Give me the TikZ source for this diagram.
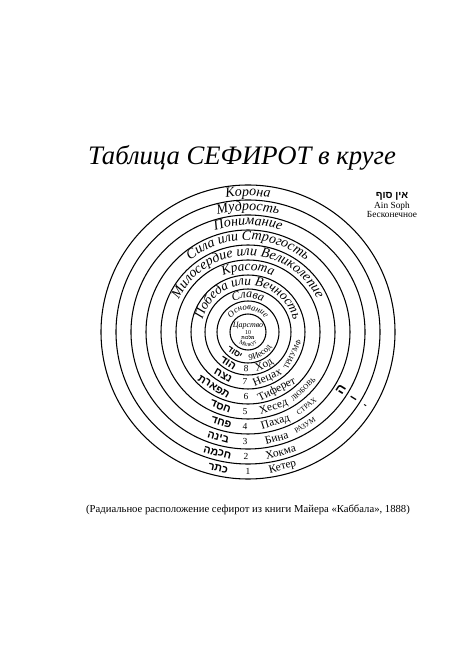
\documentclass[tikz,border=0pt]{standalone}
\usepackage{fontspec}
\setmainfont{Liberation Serif}
\newfontfamily\hebfont[Script=Hebrew]{Liberation Sans}
\TeXXeTstate=1
\usetikzlibrary{decorations.text}

% name of a sefira along the upper part of a ring
\newcommand{\arcname}[3]{%
  \path[decorate,decoration={text along path,text align=center,
    text={|\itshape\fontsize{#2}{#2}\selectfont|#3}}]
    (200:#1) arc[start angle=200,end angle=-20,radius=#1];}
% name running along the lower part of a ring, from angle #2
\newcommand{\lowname}[4]{%
  \path[decorate,decoration={text along path,
    text={|\fontsize{#3}{#3}\selectfont|#4}}]
    (#2:#1) arc[start angle=#2,end angle={#2+120},radius=#1];}
% label on the lower part of a ring, #3 = shift along the ring
\newcommand{\ringlabel}[5]{%
  \node[#4,rotate={deg(#3/#2)}] (#1) at ({-90+deg(#3/#2)}:#2) {#5};}

\tikzset{
  ring/.style={line width=0.8pt},
  rname/.style={inner sep=0pt,font=\fontsize{8.5pt}{9pt}\selectfont},
  rnum/.style={inner sep=0pt,font=\fontsize{7pt}{7pt}\selectfont},
  rcaps/.style={inner sep=0pt,font=\fontsize{5.5pt}{6pt}\selectfont},
  rheb/.style={inner sep=0pt,font=\hebfont\bfseries\fontsize{8pt}{8pt}\selectfont}
}

\begin{document}
\begin{tikzpicture}[x=0.75pt,y=0.75pt]
\useasboundingbox (-248,-334) rectangle (220,332);

\node[font=\itshape\fontsize{20pt}{22pt}\selectfont] (title) at (-6,174) {Таблица СЕФИРОТ в круге};

% rings
\foreach \r in {147,132,117,102,87,72,57,43,31,18}
  \draw[ring] (0,0) circle[radius=\r];

% upper names
\arcname{136}{10.5pt}{Корона}
\arcname{121.5}{10.5pt}{Мудрость}
\arcname{107}{10.5pt}{Понимание}
\arcname{92}{10.5pt}{Сила или Строгость}
\arcname{76.5}{10.5pt}{Милосердие или Великолепие}
\arcname{61.5}{10pt}{Красота}
\arcname{47}{10pt}{Победа или Вечность}
\arcname{34}{9pt}{Слава}
\arcname{22}{6.5pt}{Основание}

% inner ring
\node[font=\itshape\fontsize{6pt}{6pt}\selectfont,inner sep=0pt] (malkhut) at (0,6) {Царство};
\node[inner sep=0pt,font=\fontsize{4.5pt}{5pt}\selectfont] (n10) at (0,-1) {10};
\node[inner sep=0pt,font=\hebfont\bfseries\fontsize{3.5pt}{4pt}\selectfont] (h10) at (0,-6) {\beginR מלכות\endR};
\path[decorate,decoration={text along path,text align=center,
  text={|\fontsize{4.5pt}{5pt}\selectfont|Малкут}}]
  (200:14.5) arc[start angle=200,end angle=340,radius=14.5];

% lower labels
\ringlabel{h1}{139.5}{-30}{rheb}{\beginR כתר\endR}
\ringlabel{n1}{139.5}{0}{rnum}{1}
\ringlabel{r1}{139.5}{35}{rname}{Кетер}
\ringlabel{h2}{124.5}{-31}{rheb}{\beginR חכמה\endR}
\ringlabel{n2}{124.5}{-2}{rnum}{2}
\ringlabel{r2}{124.5}{33}{rname}{Хокма}
\ringlabel{h3}{109.5}{-30}{rheb}{\beginR בינה\endR}
\ringlabel{n3}{109.5}{-3}{rnum}{3}
\ringlabel{r3}{109.5}{29}{rname}{Бина}
\ringlabel{c3}{109.5}{60}{rcaps}{РАЗУМ}
\ringlabel{h4}{94.5}{-27}{rheb}{\beginR פחד\endR}
\ringlabel{n4}{94.5}{-3}{rnum}{4}
\ringlabel{r4}{94.5}{28}{rname}{Пахад}
\ringlabel{c4}{94.5}{63}{rcaps}{СТРАХ}
\ringlabel{h5}{79.5}{-28}{rheb}{\beginR חסד\endR}
\ringlabel{n5}{79.5}{-3}{rnum}{5}
\ringlabel{r5}{79.5}{26}{rname}{Хесед}
\ringlabel{c5}{79.5}{61}{rcaps}{ЛЮБОВЬ}
\ringlabel{h6}{64.5}{-36}{rheb}{\beginR תפארת\endR}
\ringlabel{n6}{64.5}{-2}{rnum}{6}
\ringlabel{r6}{64.5}{30}{rname}{Тиферет}
\ringlabel{h7}{50}{-26}{rheb}{\beginR נצח\endR}
\ringlabel{n7}{50}{-3}{rnum}{7}
\ringlabel{r7}{50}{20}{rname}{Нецах}
\ringlabel{c7}{50}{55}{rcaps}{ТРИУМФ}
\ringlabel{h8}{37}{-21}{rheb}{\beginR הוד\endR}
\ringlabel{n8}{37}{-2}{rnum}{8}
\lowname{40}{-78}{8.5pt}{Ход}
\ringlabel{h9}{24.5}{-14}{rheb,font=\hebfont\bfseries\fontsize{6.5pt}{7pt}\selectfont}{\beginR יסוד\endR}
\lowname{28}{-88}{6.5pt}{9Иесод}

% letters on the right
\node[rheb,font=\hebfont\bfseries\fontsize{10pt}{10pt}\selectfont,rotate=58] (he) at (-32:109.5) {ה};
\node[rheb,font=\hebfont\bfseries\fontsize{8pt}{8pt}\selectfont,rotate=58] (vav) at (-32:124.5) {ו};
\node[rheb,font=\hebfont\bfseries\fontsize{6pt}{6pt}\selectfont,rotate=58] (yod) at (-32:139.5) {י};

% Ain Soph
\node[rheb,font=\hebfont\bfseries\fontsize{7.5pt}{8pt}\selectfont] (ainheb) at (144,136) {\beginR אין סוף\endR};
\node[font=\fontsize{7pt}{7pt}\selectfont,inner sep=0pt] (ainsoph) at (144,126) {Ain Soph};
\node[font=\fontsize{7pt}{7pt}\selectfont,inner sep=0pt] (endless) at (144,118) {Бесконечное};

\node[font=\fontsize{8pt}{9pt}\selectfont] (caption) at (0,-178) {(Радиальное расположение сефирот из книги Майера «Каббала», 1888)};
\end{tikzpicture}
\end{document}
